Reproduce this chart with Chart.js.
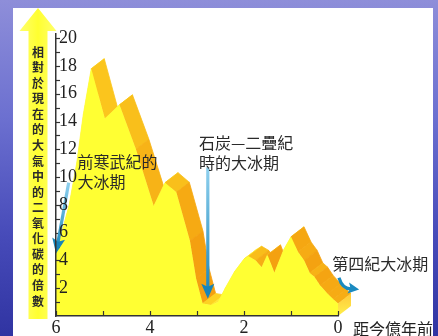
<!DOCTYPE html>
<html>
<head>
<meta charset="utf-8">
<script src="https://cdn.jsdelivr.net/npm/chart.js@4/dist/chart.umd.min.js"></script>
<style>
  html, body { margin: 0; padding: 0; width: 438px; height: 336px; overflow: hidden; }
  body {
    position: relative;
    background: linear-gradient(to bottom, #8e8ed9 0%, #6c70d0 35%, #474bb9 70%, #3034a2 100%);
  }
  #panel { position: absolute; left: 13px; top: 8px; width: 420px; height: 328px; background: #ffffff; }
  #wrap { position: absolute; left: 0; top: 0; width: 438px; height: 340px; }
</style>
</head>
<body>
<div id="panel"></div>
<div id="wrap"><canvas id="chart" width="438" height="340"></canvas></div>
<script>
// Atmospheric CO2 relative to today, over the last 600 million years
const ages = [6.0, 5.88, 5.72, 5.56, 5.42, 5.25, 4.96, 4.65, 4.3, 3.92, 3.68, 3.44, 3.15, 3.02, 2.88, 2.7, 2.55,
              2.4, 2.2, 2.0, 1.9, 1.75, 1.62, 1.5, 1.35, 1.15, 1.0, 0.85, 0.72, 0.6, 0.5, 0.38, 0.22, 0.1, 0.0];
const co2Ratio = [4.7, 6.0, 8.0, 11.0, 14.5, 17.8, 14.2, 15.2, 12.0, 7.9, 9.6, 8.9, 5.4, 2.7, 0.9, 0.8, 1.0,
                  2.0, 3.2, 4.1, 4.3, 4.0, 3.5, 4.4, 3.1, 4.8, 5.7, 4.6, 4.0, 3.1, 2.8, 2.2, 1.6, 1.2, 0.9];

const xTickLabels = [6, 4, 2, 0];
const yTickLabels = [2, 4, 6, 8, 10, 12, 14, 16, 18, 20];
const xTitle = '距今億年前';
const yTitle = '相對於現在的大氣中的二氧化碳的倍數';

// Ice-age notes: text lines anchored at (age, ratio), arrows from -> to in the same units
const iceAges = [
  { lines: ['前寒武紀的', '大冰期'], at: [5.54, 11.1], arrow: { from: [5.73, 9.6], to: [6.0, 4.5] } },
  { lines: ['石炭—二疊紀', '時的大冰期'], at: [2.96, 12.45], arrow: { from: [2.77, 10.7], to: [2.77, 1.25] } },
  { lines: ['第四紀大冰期'], at: [0.12, 3.75], hook: { from: [-0.02, 2.75], to: [-0.45, 1.9] } }
];

const DEPTH_X = 13, DEPTH_Y = -10;   // extrusion of the relief
const CJK = '"Noto Sans CJK TC", "Noto Sans CJK SC", sans-serif';

function mix(a, b, t) { return a.map((v, i) => Math.round(v + (b[i] - v) * t)); }
// Colour of a side strip: rising faces are pale, falling faces turn orange, more so near the floor
function shade(dx, dy, level) {
  const len = Math.hypot(dx, dy) || 1;
  const t = (dy / len + 1) / 2;               // 0 rising, 0.5 flat, 1 falling
  const light = [255, 246, 70], mid = [255, 222, 38], dark = [244, 160, 16];
  if (t < 0.5) { const c = mix(light, mid, t / 0.5); return `rgb(${c})`; }
  const low = 1 - Math.min(level / 18, 1) * 0.75;
  const c = mix(mid, dark, Math.min(1, (t - 0.5) / 0.5 * low * 1.25));
  return `rgb(${c})`;
}

// Side surfaces of the extruded curve, drawn behind the yellow front face
const reliefPlugin = {
  id: 'relief',
  beforeDatasetsDraw(chart) {
    const ctx = chart.ctx;
    const pts = chart.getDatasetMeta(0).data;
    const base = chart.scales.y.getPixelForValue(0);
    ctx.save();
    ctx.lineJoin = 'round';
    for (let i = 0; i < pts.length - 1; i++) {
      const a = pts[i], b = pts[i + 1];
      const col = shade(b.x - a.x, b.y - a.y, (co2Ratio[i] + co2Ratio[i + 1]) / 2);
      ctx.beginPath();
      ctx.moveTo(a.x, a.y);
      ctx.lineTo(b.x, b.y);
      ctx.lineTo(b.x + DEPTH_X, b.y + DEPTH_Y);
      ctx.lineTo(a.x + DEPTH_X, a.y + DEPTH_Y);
      ctx.closePath();
      ctx.fillStyle = col; ctx.strokeStyle = col; ctx.lineWidth = 0.8;
      ctx.fill(); ctx.stroke();
    }
    const last = pts[pts.length - 1];
    const g = ctx.createLinearGradient(0, last.y + DEPTH_Y, 0, base);
    g.addColorStop(0, '#ffc93a'); g.addColorStop(1, '#fff04a');
    ctx.beginPath();
    ctx.moveTo(last.x, last.y);
    ctx.lineTo(last.x + DEPTH_X, last.y + DEPTH_Y);
    ctx.lineTo(last.x + DEPTH_X, base + DEPTH_Y);
    ctx.lineTo(last.x, base);
    ctx.closePath();
    ctx.fillStyle = g; ctx.fill();
    ctx.restore();
  }
};

function arrowHead(ctx, x, y, ang, len, w, color) {
  ctx.save();
  ctx.translate(x, y); ctx.rotate(ang);
  ctx.beginPath();
  ctx.moveTo(0, 0); ctx.lineTo(-len, -w / 2); ctx.lineTo(-len * 0.8, 0); ctx.lineTo(-len, w / 2);
  ctx.closePath();
  ctx.fillStyle = color; ctx.fill();
  ctx.restore();
}

// Axis decorations, labels and ice-age notes
const notesPlugin = {
  id: 'notes',
  beforeDraw(chart) {
    const ctx = chart.ctx, area = chart.chartArea;
    const cx = area.left - 18, top = area.top - 26, headBase = top + 23, bottom = area.bottom + 3;
    ctx.save();
    const g = ctx.createLinearGradient(cx - 19, 0, cx + 19, 0);
    g.addColorStop(0, '#ffff6e'); g.addColorStop(0.5, '#ffff30'); g.addColorStop(1, '#ffff6e');
    ctx.fillStyle = g;
    ctx.beginPath();
    ctx.moveTo(cx, top);
    ctx.lineTo(cx + 18.5, headBase);
    ctx.lineTo(cx + 9.5, headBase);
    ctx.lineTo(cx + 9.5, bottom);
    ctx.lineTo(cx - 9.5, bottom);
    ctx.lineTo(cx - 9.5, headBase);
    ctx.lineTo(cx - 18.5, headBase);
    ctx.closePath();
    ctx.fill();
    ctx.fillStyle = '#2b2b2b';
    ctx.font = 'bold 12px ' + CJK;
    ctx.textAlign = 'center'; ctx.textBaseline = 'middle';
    const chars = Array.from(yTitle);
    const y0 = top + 44, y1 = bottom - 18;
    chars.forEach((ch, i) => ctx.fillText(ch, cx, y0 + (y1 - y0) * i / (chars.length - 1)));
    ctx.restore();
  },
  afterDatasetsDraw(chart) {
    const ctx = chart.ctx, area = chart.chartArea;
    const xs = chart.scales.x, ys = chart.scales.y;
    const P = (a, r) => [xs.getPixelForValue(a), ys.getPixelForValue(r)];
    ctx.save();
    // inward tick marks
    ctx.strokeStyle = '#333'; ctx.lineWidth = 1.2;
    xs.ticks.forEach(t => {
      if (!Number.isInteger(t.value)) return;
      const px = Math.round(xs.getPixelForValue(t.value)) + 0.5;
      ctx.beginPath(); ctx.moveTo(px, area.bottom); ctx.lineTo(px, area.bottom - 5); ctx.stroke();
    });
    ys.ticks.forEach(t => {
      if (!Number.isInteger(t.value) || t.value === 0) return;
      const py = Math.round(ys.getPixelForValue(t.value)) + 0.5;
      ctx.beginPath(); ctx.moveTo(area.left, py); ctx.lineTo(area.left + 4, py); ctx.stroke();
    });
    // x axis title beside the last tick label
    ctx.fillStyle = '#222';
    ctx.font = '16px ' + CJK;
    ctx.textAlign = 'left'; ctx.textBaseline = 'middle';
    ctx.fillText(xTitle, area.right + 15, area.bottom + 13);

    iceAges.forEach(n => {
      if (n.arrow) {
        const [x1, y1] = P(...n.arrow.from), [x2, y2] = P(...n.arrow.to);
        const gr = ctx.createLinearGradient(x1, y1, x2, y2);
        gr.addColorStop(0, '#8fd0ee'); gr.addColorStop(1, '#1784b8');
        const ang = Math.atan2(y2 - y1, x2 - x1);
        ctx.strokeStyle = gr; ctx.lineWidth = 3.2; ctx.lineCap = 'butt';
        ctx.beginPath(); ctx.moveTo(x1, y1);
        ctx.lineTo(x2 - Math.cos(ang) * 10, y2 - Math.sin(ang) * 10); ctx.stroke();
        arrowHead(ctx, x2, y2, ang, 15, 13, '#1784b8');
      }
      if (n.hook) {
        const [x1, y1] = P(...n.hook.from), [x2, y2] = P(...n.hook.to);
        ctx.strokeStyle = '#1a8ac0'; ctx.lineWidth = 3.2;
        ctx.beginPath(); ctx.moveTo(x1, y1);
        ctx.quadraticCurveTo(x1 + 4, y2 + 1, x2 - 6, y2 - 1); ctx.stroke();
        arrowHead(ctx, x2, y2, 0.15, 11, 11, '#1a8ac0');
      }
      const [tx, ty] = P(...n.at);
      ctx.fillStyle = '#2a2a2a';
      ctx.font = '16px ' + CJK;
      ctx.textAlign = 'left'; ctx.textBaseline = 'middle';
      n.lines.forEach((line, i) => ctx.fillText(line, tx, ty + i * 20));
    });
    ctx.restore();
  }
};

const serif = { family: '"Liberation Serif", "Times New Roman", serif', size: 18, lineHeight: 1 };

new Chart(document.getElementById('chart'), {
  type: 'line',
  data: {
    datasets: [{
      data: ages.map((a, i) => ({ x: a, y: co2Ratio[i] })),
      fill: 'origin',
      backgroundColor: '#ffff33',
      borderWidth: 0,
      pointRadius: 0,
      tension: 0
    }]
  },
  options: {
    responsive: false,
    animation: false,
    events: [],
    layout: { padding: { left: 50, right: 100, top: 34, bottom: 0 } },
    plugins: { legend: { display: false }, tooltip: { enabled: false } },
    scales: {
      x: {
        type: 'linear', reverse: true, min: 0, max: 6, position: 'bottom',
        border: { display: true, color: '#333', width: 1.5, z: 1 },
        grid: { display: false, drawTicks: false },
        ticks: {
          stepSize: 1, autoSkip: false, maxRotation: 0, padding: 3, color: '#222', font: serif, z: 1,
          callback: v => xTickLabels.includes(v) ? String(v) : ''
        }
      },
      y: {
        type: 'linear', min: 0, max: 20.3,
        border: { display: true, color: '#333', width: 1.5, z: 1 },
        grid: { display: false, drawTicks: false },
        ticks: {
          stepSize: 1, includeBounds: false, autoSkip: false, mirror: true, padding: 3, color: '#222', font: serif, z: 1,
          callback: v => yTickLabels.includes(v) ? String(v) : ''
        }
      }
    }
  },
  plugins: [reliefPlugin, notesPlugin]
});
</script>
</body>
</html>
